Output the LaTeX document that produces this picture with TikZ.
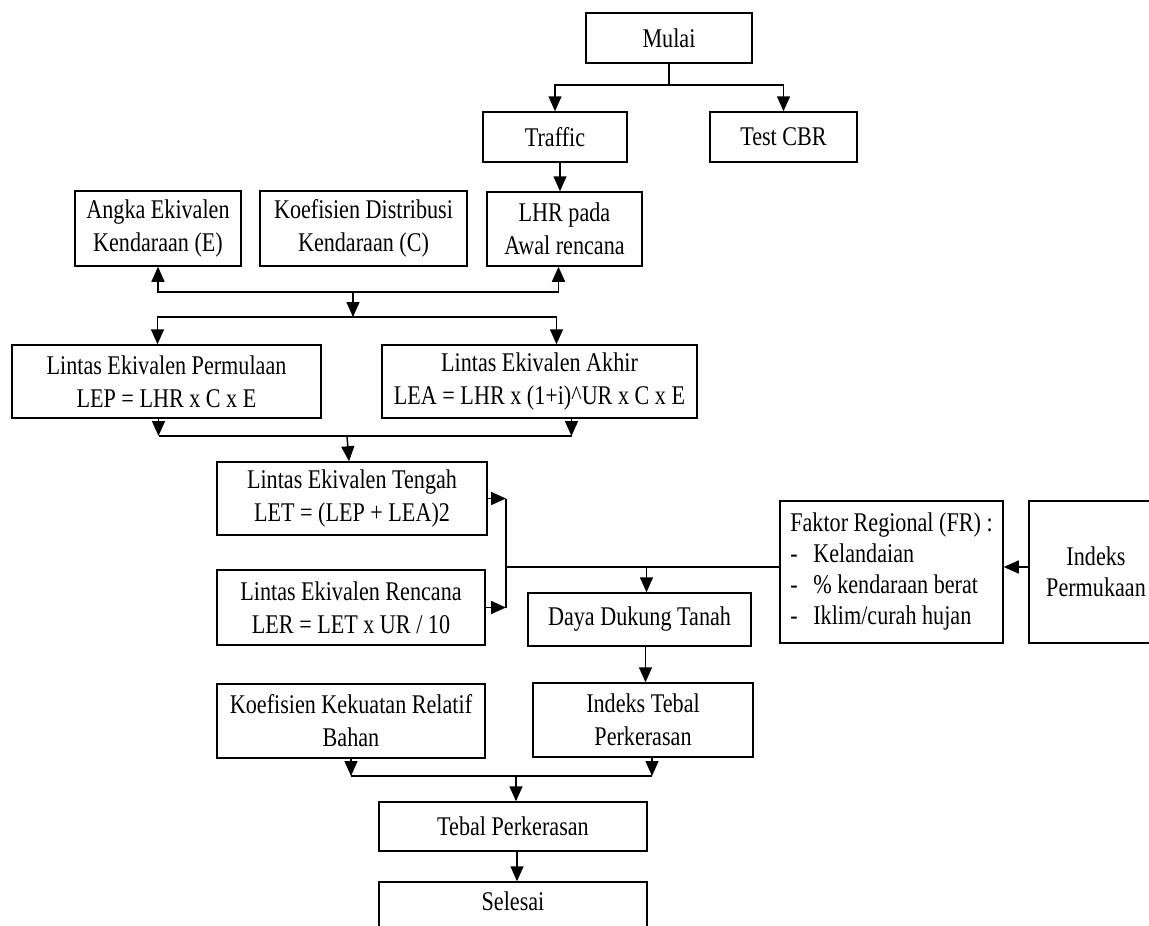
\documentclass[tikz,border=0pt]{standalone}
\usepackage{fontspec}
\setmainfont{Liberation Serif}[FakeStretch=0.82]
\usetikzlibrary{arrows.meta}

\begin{document}
\begin{tikzpicture}[x=1pt,y=-1pt,
  box/.style={draw,line width=1.5pt,align=center,inner sep=3pt,
    font=\fontsize{27}{33}\selectfont},
  conn/.style={line width=1.5pt},
  >={Triangle[length=15pt,width=13pt]}]
\useasboundingbox (0,0) rectangle (1149,926);
% boxes
\node[box,minimum width=166,minimum height=50] (mulai) at (669,38) {Mulai};
\node[box,minimum width=144,minimum height=50] (traffic) at (555,137) {Traffic};
\node[box,minimum width=147,minimum height=50] (cbr) at (783.5,137) {Test CBR};
\node[box,minimum width=166,minimum height=75] (angka) at (158,228.5) {Angka Ekivalen\\Kendaraan (E)};
\node[box,minimum width=207,minimum height=75] (koefdist) at (363.5,228.5) {Koefisien Distribusi\\Kendaraan (C)};
\node[box,minimum width=155,minimum height=74] (lhr) at (564.5,229) {LHR pada\\Awal rencana};
\node[box,minimum width=309,minimum height=73] (lep) at (166.5,381.5) {Lintas Ekivalen Permulaan\\LEP = LHR x C x E};
\node[box,minimum width=315,minimum height=73] (lea) at (539.5,381.5) {Lintas Ekivalen Akhir\\LEA = LHR x (1+i)\^{}UR x C x E};
\node[box,minimum width=270,minimum height=73] (let) at (352,498.5) {Lintas Ekivalen Tengah\\LET = (LEP + LEA)2};
\node[box,minimum width=268,minimum height=75] (ler) at (351,607.5) {Lintas Ekivalen Rencana\\LER = LET x UR / 10};
\node[box,minimum width=223,minimum height=53] (daya) at (639.5,619.5) {Daya Dukung Tanah};
\node[box,minimum width=223,minimum height=142,align=left,
  font=\fontsize{27}{31}\selectfont] (fr) at (891.5,572)
  {Faktor Regional (FR) :\\
   \makebox[23pt][l]{-}Kelandaian\\
   \makebox[23pt][l]{-}\% kendaraan berat\\
   \makebox[23pt][l]{-}Iklim/curah hujan};
\node[box,minimum width=134,minimum height=142,
  font=\fontsize{27}{31}\selectfont] (indekspm) at (1096,572) {Indeks\\Permukaan};
\node[box,minimum width=268,minimum height=74] (koefkr) at (351,721) {Koefisien Kekuatan Relatif\\Bahan};
\node[box,minimum width=220,minimum height=74] (itp) at (643,720) {Indeks Tebal\\Perkerasan};
\node[box,minimum width=268,minimum height=49] (tebal) at (513,826.5) {Tebal Perkerasan};
\node[box,minimum width=268,minimum height=60,text depth=22pt] (selesai) at (513,912) {Selesai};
% junctions
\coordinate (s1) at (669,85);
\coordinate (s2) at (353,292);
\coordinate (s3) at (353,317);
\coordinate (s4) at (347,436);
\coordinate (s5) at (506,567);
\coordinate (s6) at (516,776);
\coordinate (trb) at ([xshift=5]traffic.south);
\coordinate (lhrb) at ([xshift=-6]lhr.south);
\coordinate (lept) at ([xshift=-9]lep.north);
\coordinate (leat) at ([xshift=17]lea.north);
\coordinate (lepb) at ([xshift=-8]lep.south);
\coordinate (leab) at ([xshift=32]lea.south);
\coordinate (dayat) at ([xshift=7]daya.north);
\coordinate (dayab) at ([xshift=6]daya.south);
\coordinate (itpb) at ([xshift=9]itp.south);
\coordinate (tebb) at ([xshift=4]tebal.south);
% connectors
\draw[conn] (mulai) -- (s1);
\draw[conn,->] (s1) -| (traffic);
\draw[conn,->] (s1) -| (cbr);
\draw[conn,->] (trb) -- (trb |- lhr.north);
\draw[conn,->] (s2) -| (angka);
\draw[conn,->] (s2) -| (lhrb);
\draw[conn,->] (s2) -- (s3);
\draw[conn,->] (s3) -| (lept);
\draw[conn,->] (s3) -| (leat);
\draw[conn,->] (lepb) -- (lepb |- s4) coordinate (l1);
\draw[conn,->] (leab) -- (leab |- s4) coordinate (l2);
\draw[conn] (l1) -- (l2);
\draw[conn,->] (s4) -- (let);
\draw[conn,->] (let) -- (let -| s5);
\draw[conn,->] (ler) -- (ler -| s5);
\draw[conn] (let -| s5) -- (ler -| s5);
\draw[conn] (s5) -- (s5 -| fr.west);
\draw[conn,->] (dayat |- s5) -- (dayat);
\draw[conn,->] (indekspm.west |- s5) -- (fr.east |- s5);
\draw[conn,->] (dayab) -- (dayab |- itp.north);
\draw[conn,->] (koefkr.south) -- (koefkr.south |- s6) coordinate (l3);
\draw[conn,->] (itpb) -- (itpb |- s6) coordinate (l4);
\draw[conn] (l3) -- (l4);
\draw[conn,->] (s6) -- (s6 |- tebal.north);
\draw[conn,->] (tebb) -- (tebb |- selesai.north);
\end{tikzpicture}
\end{document}
